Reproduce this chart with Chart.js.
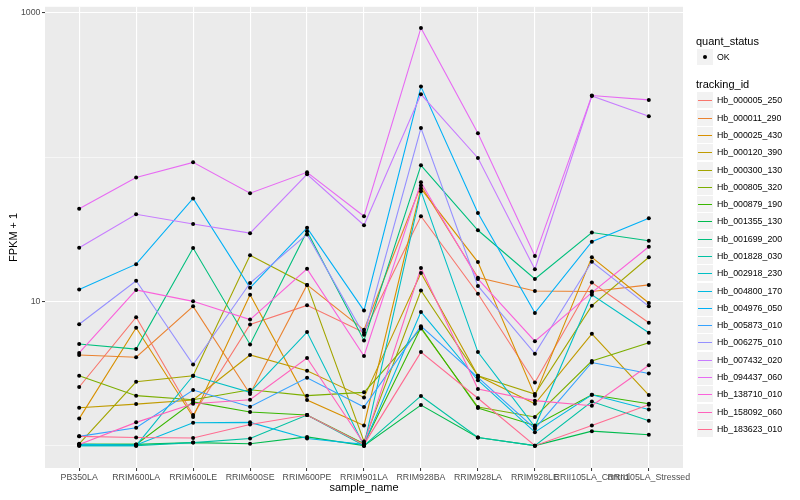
<!DOCTYPE html>
<html>
<head>
<meta charset="utf-8">
<script src="https://cdn.jsdelivr.net/npm/chart.js@4.4.0/dist/chart.umd.min.js"></script>
<style>
  body { margin: 0; background: #ffffff; }
  #wrap { position: relative; width: 800px; height: 500px; }
  #c { position: absolute; left: 0; top: 0; }
  .lg { position: absolute; font-family: "Liberation Sans", Arial, Helvetica, sans-serif; color: #000; white-space: nowrap; }
  .lgTitle { font-size: 11px; line-height: 14px; }
  .lgRow { font-size: 8.8px; height: 17px; line-height: 17px; }
  .key { position: absolute; left: 0; top: 0; width: 16px; height: 16px; background: #F2F2F2; }
  .keyLine { position: absolute; left: 1px; width: 14px; top: 7.5px; height: 1.5px; }
  .keyDot { position: absolute; left: 6px; top: 6px; width: 4px; height: 4px; border-radius: 50%; background: #000; }
  .lbl { position: absolute; left: 20px; top: 0; }
</style>
</head>
<body>
<div id="wrap">
  <canvas id="c" width="800" height="500"></canvas>
  <div id="legend"></div>
</div>
<script>
// ---- data ----
const categories = ["PB350LA", "RRIM600LA", "RRIM600LE", "RRIM600SE", "RRIM600PE", "RRIM901LA",
  "RRIM928BA", "RRIM928LA", "RRIM928LE", "RRII105LA_Control", "RRII105LA_Stressed"];

const trackingIds = ["Hb_000005_250", "Hb_000011_290", "Hb_000025_430", "Hb_000120_390", "Hb_000300_130",
  "Hb_000805_320", "Hb_000879_190", "Hb_001355_130", "Hb_001699_200", "Hb_001828_030",
  "Hb_002918_230", "Hb_004800_170", "Hb_004976_050", "Hb_005873_010", "Hb_006275_010",
  "Hb_007432_020", "Hb_094437_060", "Hb_138710_010", "Hb_158092_060", "Hb_183623_010"];

const seriesColors = ["#F8766D", "#EA8331", "#D89000", "#C09B00", "#A3A500", "#7CAE00", "#39B600", "#00BB4E",
  "#00BF7D", "#00C1A3", "#00BFC4", "#00BAE0", "#00B0F6", "#35A2FF", "#9590FF", "#C77CFF",
  "#E76BF3", "#FA62DB", "#FF62BC", "#FF6C91"];

// FPKM + 1 per sample (same order as categories)
const hb_000005_250 = [2.55, 7.76, 1.63, 6.91, 9.38, 6.09, 38.9, 11.3, 2.74, 13.5, 7.10];
const hb_000011_290 = [4.25, 4.10, 9.23, 2.28, 13.0, 6.35, 63.5, 14.6, 11.8, 11.7, 13.0];
const hb_000025_430 = [1.54, 6.56, 1.58, 11.1, 2.07, 1.38, 60.5, 18.7, 2.22, 20.2, 9.74];
const hb_000120_390 = [1.83, 1.94, 2.07, 4.25, 3.30, 2.16, 15.7, 3.05, 1.95, 5.96, 2.24];
const hb_000300_130 = [1.03, 2.77, 3.05, 20.9, 13.0, 1.07, 11.9, 3.05, 2.28, 9.34, 20.2];
const hb_000805_320 = [3.05, 2.22, 2.08, 2.44, 2.22, 2.34, 6.48, 1.85, 1.58, 3.86, 5.17];
const hb_000879_190 = [1.02, 1.02, 2.01, 1.71, 1.63, 1.03, 6.59, 1.82, 1.38, 2.25, 1.95];
const hb_001355_130 = [1.02, 1.02, 1.05, 1.03, 1.15, 1.00, 1.91, 1.14, 1.00, 1.26, 1.19];
const hb_001699_200 = [5.06, 4.67, 23.4, 5.03, 30.6, 5.36, 87.6, 31.1, 14.3, 30.0, 26.3];
const hb_001828_030 = [1.00, 1.00, 1.05, 1.12, 1.63, 1.00, 2.21, 1.14, 1.00, 2.02, 1.49];
const hb_002918_230 = [1.00, 1.00, 3.05, 2.34, 6.12, 1.00, 58.0, 4.45, 1.35, 11.1, 6.06];
const hb_004800_170 = [1.02, 1.01, 1.44, 1.45, 1.12, 1.02, 8.45, 2.84, 1.24, 2.25, 1.78];
const hb_004976_050 = [12.1, 18.1, 51.7, 12.4, 32.3, 8.63, 308, 40.9, 8.32, 25.9, 37.6];
const hb_005873_010 = [1.16, 1.33, 2.43, 1.86, 2.95, 1.85, 6.73, 2.97, 1.31, 3.77, 3.16];
const hb_006275_010 = [6.94, 13.9, 3.65, 13.4, 29.1, 5.87, 159, 12.8, 4.34, 18.8, 9.23];
const hb_007432_020 = [23.5, 40.1, 34.4, 29.7, 76.0, 33.7, 272, 98.5, 16.7, 265, 192];
const hb_094437_060 = [43.9, 72.1, 91.9, 56.2, 78.4, 38.9, 785, 146, 20.6, 267, 249];
const hb_138710_010 = [4.39, 12.0, 10.0, 7.48, 16.8, 4.18, 66.9, 14.3, 5.30, 11.5, 23.9];
const hb_158092_060 = [1.02, 1.45, 1.95, 2.08, 4.05, 1.03, 17.0, 2.47, 2.05, 1.89, 3.61];
const hb_183623_010 = [1.16, 1.14, 1.13, 1.40, 1.63, 1.02, 4.45, 2.13, 1.00, 1.38, 1.92];

const seriesValues = [hb_000005_250, hb_000011_290, hb_000025_430, hb_000120_390, hb_000300_130,
  hb_000805_320, hb_000879_190, hb_001355_130, hb_001699_200, hb_001828_030,
  hb_002918_230, hb_004800_170, hb_004976_050, hb_005873_010, hb_006275_010,
  hb_007432_020, hb_094437_060, hb_138710_010, hb_158092_060, hb_183623_010];

const yGridValues = [1, 10, 100, 1000];
const yTickLabels = [10, 1000];

// ---- chart ----
const FONT = '"Liberation Sans", Arial, Helvetica, sans-serif';

const lineSets = seriesValues.map((vals, i) => ({
  type: 'line',
  label: trackingIds[i],
  data: vals.map((v, j) => ({ x: j, y: v })),
  borderColor: seriesColors[i],
  backgroundColor: seriesColors[i],
  borderWidth: 1.1,
  pointRadius: 0,
  fill: false,
  tension: 0,
  order: 100 - i
}));

const pointSet = {
  type: 'scatter',
  label: 'OK',
  data: seriesValues.flatMap(vals => vals.map((v, j) => ({ x: j, y: v }))),
  pointRadius: 2,
  pointBackgroundColor: '#000000',
  pointBorderWidth: 0,
  showLine: false,
  order: -1
};

const panelBg = {
  id: 'panelBg',
  beforeDraw(chart) {
    const { ctx, chartArea: a } = chart;
    ctx.save();
    ctx.fillStyle = '#EBEBEB';
    ctx.fillRect(a.left, a.top, a.right - a.left, a.bottom - a.top);
    ctx.restore();
  }
};

new Chart(document.getElementById('c'), {
  type: 'line',
  data: { datasets: [...lineSets, pointSet] },
  plugins: [panelBg],
  options: {
    responsive: false,
    animation: false,
    layout: { padding: { left: 0, right: 117, top: 5, bottom: 0 } },
    plugins: { legend: { display: false }, tooltip: { enabled: false } },
    scales: {
      x: {
        type: 'linear',
        min: -0.6,
        max: 10.6,
        afterBuildTicks: s => { s.ticks = categories.map((_, i) => ({ value: i })); },
        afterFit: s => { s.height = 32; },
        ticks: {
          autoSkip: false, maxRotation: 0, minRotation: 0, padding: 1,
          color: '#4D4D4D', font: { size: 8.8, family: FONT },
          callback: v => categories[v] !== undefined ? categories[v] : ''
        },
        grid: { color: '#FFFFFF', lineWidth: 1.1, tickLength: 3, tickColor: '#333333', tickWidth: 1 },
        border: { display: false },
        title: { display: true, text: 'sample_name', color: '#000000', font: { size: 11, family: FONT }, padding: { top: 0, bottom: 5.4 } }
      },
      y: {
        type: 'logarithmic',
        min: 0.717,
        max: 1100,
        afterBuildTicks: s => { s.ticks = yGridValues.map(v => ({ value: v })); },
        afterFit: s => { s.width = 45; },
        ticks: {
          autoSkip: false, padding: 1.5,
          color: '#4D4D4D', font: { size: 8.8, family: FONT },
          callback: v => yTickLabels.includes(v) ? String(v) : ''
        },
        grid: {
          color: '#FFFFFF',
          lineWidth: c => (c.tick && yTickLabels.includes(c.tick.value)) ? 1.1 : 0.55,
          tickLength: 3,
          tickWidth: 1,
          tickColor: c => (c.tick && yTickLabels.includes(c.tick.value)) ? '#333333' : 'rgba(0,0,0,0)'
        },
        border: { display: false },
        title: { display: true, text: 'FPKM + 1', color: '#000000', font: { size: 11, family: FONT }, padding: { top: 7, bottom: 0 } }
      }
    }
  }
});

// ---- legend (HTML text) ----
const lg = document.getElementById('legend');
function add(html, cls, left, top) {
  const d = document.createElement('div');
  d.className = 'lg ' + cls;
  d.style.left = left + 'px';
  d.style.top = Math.round(top) + 'px';
  d.innerHTML = html;
  lg.appendChild(d);
  return d;
}
add('quant_status', 'lgTitle', 696, 33.7);
add('<div class="key"><div class="keyDot"></div></div><div class="lbl">OK</div>', 'lgRow', 697, 49);
add('tracking_id', 'lgTitle', 696, 77.3);
trackingIds.forEach((id, i) => {
  const top = 100.7 + 17.29 * i - 8.3;
  add('<div class="key"><div class="keyLine" style="background:' + seriesColors[i] + '"></div></div><div class="lbl">' + id + '</div>', 'lgRow', 697, top);
});
</script>
</body>
</html>
